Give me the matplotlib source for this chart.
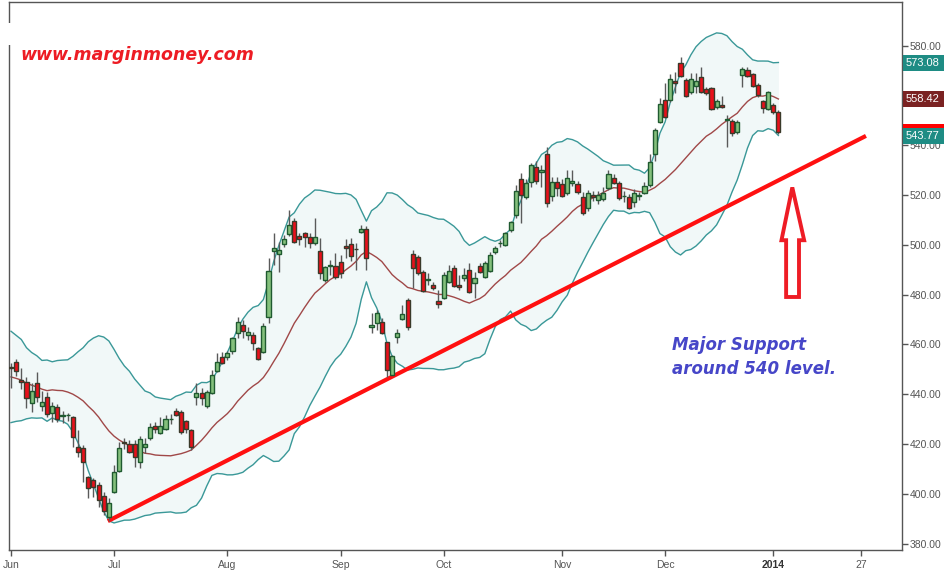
import numpy as np
import pandas as pd
import matplotlib
matplotlib.use("Agg")
import matplotlib.pyplot as plt
from matplotlib.patches import Rectangle, Polygon
import matplotlib.transforms as mtransforms

# ---------------- data ----------------
# closes of the 19 sessions before the first candle (May 2013), used only for the 20-day bands
prior_closes = [460.7, 458.7, 463.8, 456.8, 453.0, 454.7, 443.9, 428.9, 434.6, 433.3,
                442.9, 439.7, 441.4, 442.1, 445.2, 441.4, 445.0, 451.6, 449.7]

opens = [450.7, 452.8, 445.7, 445.0, 436.3, 444.3, 435.3, 439.0, 432.3, 435.0,
         431.4, 431.5, 431.0, 418.9, 418.2, 406.8, 405.5, 403.5, 399.1, 390.8,
         400.8, 409.2, 420.8, 419.8, 419.8, 412.9, 418.8, 422.5, 427.3, 424.5,
         426.1, 429.8, 433.2, 432.7, 429.2, 425.6, 438.7, 440.3, 435.2, 440.3,
         449.4, 454.8, 455.0, 457.4, 464.4, 467.8, 463.6, 463.7, 458.4, 456.8,
         470.8, 497.6, 496.1, 500.2, 504.2, 509.6, 503.4, 504.8, 503.2, 500.6,
         497.6, 485.7, 491.5, 491.6, 493.0, 499.5, 500.2, 498.4, 505.0, 506.2,
         466.8, 468.4, 469.1, 460.8, 447.6, 462.8, 470.3, 477.8, 496.3, 494.9,
         489.2, 485.9, 483.8, 477.4, 478.5, 485.1, 490.5, 483.7, 486.5, 489.8,
         484.5, 491.4, 486.9, 489.6, 497.2, 500.6, 499.9, 505.9, 511.9, 526.3,
         519.0, 525.1, 531.3, 529.1, 536.4, 519.6, 525.1, 524.3, 520.9, 524.7,
         524.4, 519.3, 514.6, 520.0, 518.0, 518.2, 522.7, 526.7, 524.9, 519.4,
         519.0, 517.3, 519.6, 520.9, 524.0, 536.3, 549.4, 558.1, 558.1, 565.6,
         573.1, 566.1, 561.2, 563.7, 567.2, 562.5, 563.0, 555.2, 556.1, 550.0,
         549.7, 545.4, 568.0, 570.2, 568.6, 564.1, 557.7, 554.4, 556.1, 553.2]

highs = [452.4, 454.0, 450.5, 447.0, 444.3, 448.8, 441.4, 441.0, 437.0, 436.0,
         433.2, 432.3, 431.3, 425.6, 419.6, 407.1, 406.5, 404.8, 400.8, 398.2,
         411.5, 420.9, 422.5, 421.6, 421.6, 423.2, 422.5, 428.5, 428.9, 430.9,
         431.6, 432.0, 434.3, 433.6, 429.6, 426.0, 444.3, 442.6, 441.6, 449.7,
         456.6, 457.0, 457.5, 463.0, 470.8, 469.8, 467.1, 465.1, 459.0, 468.4,
         494.5, 504.6, 501.2, 503.9, 513.9, 510.6, 504.8, 505.2, 504.5, 510.6,
         502.6, 491.6, 494.0, 496.5, 496.0, 502.2, 502.5, 500.7, 507.9, 507.5,
         472.4, 473.8, 470.5, 461.0, 455.8, 466.1, 475.8, 478.5, 497.9, 496.0,
         490.0, 488.5, 485.0, 481.8, 489.2, 491.8, 492.0, 487.8, 490.5, 492.5,
         489.2, 492.5, 493.5, 497.0, 499.5, 502.0, 505.0, 509.5, 524.0, 528.9,
         526.5, 532.9, 533.5, 532.0, 539.4, 527.0, 527.0, 526.5, 530.0, 530.0,
         525.5, 521.0, 522.0, 521.5, 521.5, 523.0, 530.0, 528.5, 525.5, 521.5,
         520.5, 522.5, 521.0, 525.0, 536.4, 546.8, 559.0, 564.8, 568.5, 569.5,
         575.5, 567.0, 568.8, 568.8, 571.5, 563.5, 563.5, 558.5, 559.7, 552.1,
         550.5, 550.0, 571.5, 571.5, 569.0, 565.0, 558.1, 561.6, 557.0, 554.1]

lows = [442.5, 447.3, 442.0, 434.5, 432.7, 436.7, 433.2, 430.9, 428.9, 428.9,
        428.5, 429.0, 418.9, 414.9, 404.8, 398.2, 398.6, 394.8, 391.4, 388.9,
        400.2, 408.8, 418.0, 416.2, 410.6, 410.2, 416.5, 421.6, 424.3, 424.0,
        425.6, 428.0, 431.3, 424.0, 424.5, 417.6, 435.6, 435.6, 434.3, 439.9,
        449.0, 452.1, 453.8, 456.2, 462.7, 462.4, 461.7, 457.7, 453.7, 456.4,
        468.4, 491.8, 489.2, 499.2, 503.5, 500.6, 499.8, 499.2, 498.5, 499.9,
        486.2, 485.0, 488.0, 486.4, 486.5, 494.6, 493.5, 489.8, 504.6, 489.8,
        464.7, 465.7, 464.0, 447.0, 447.5, 460.4, 469.8, 465.7, 482.5, 488.0,
        481.0, 483.8, 481.8, 474.5, 478.3, 484.5, 483.0, 481.8, 485.5, 480.5,
        478.5, 488.5, 486.5, 489.0, 496.3, 499.0, 499.5, 505.0, 510.6, 508.6,
        518.5, 523.3, 524.5, 523.3, 515.0, 517.5, 519.5, 519.0, 520.0, 523.5,
        520.5, 512.0, 513.5, 517.5, 516.5, 517.5, 522.0, 524.5, 518.0, 517.0,
        514.5, 515.0, 518.0, 520.3, 523.3, 533.7, 549.0, 550.8, 557.5, 561.0,
        567.5, 559.5, 560.5, 561.0, 560.8, 560.0, 554.0, 554.5, 554.8, 539.1,
        543.5, 544.5, 563.4, 567.5, 563.5, 559.5, 552.8, 554.0, 552.5, 544.5]

closes = [450.5, 449.2, 444.9, 438.3, 441.4, 438.7, 437.0, 431.9, 435.3, 430.0,
          431.6, 431.7, 422.7, 416.6, 412.9, 402.2, 402.5, 397.5, 393.2, 396.1,
          408.6, 418.2, 420.5, 416.9, 414.6, 421.8, 420.1, 426.9, 426.1, 427.1,
          429.9, 430.0, 431.6, 424.7, 425.9, 418.6, 440.3, 438.3, 440.7, 447.7,
          453.0, 452.4, 456.4, 462.4, 469.1, 465.3, 464.8, 460.6, 454.1, 467.3,
          489.4, 498.6, 497.9, 502.2, 507.9, 500.9, 502.2, 503.0, 500.8, 503.0,
          488.5, 490.9, 491.7, 486.9, 488.5, 498.6, 495.5, 498.2, 506.2, 494.6,
          467.8, 472.5, 464.7, 449.7, 455.3, 464.4, 472.0, 467.1, 490.5, 488.8,
          481.4, 486.1, 482.5, 476.3, 487.8, 489.4, 483.4, 482.9, 487.8, 480.9,
          486.5, 489.2, 492.5, 495.7, 498.6, 500.8, 504.6, 509.2, 521.6, 520.0,
          524.9, 532.0, 525.7, 530.0, 516.6, 525.1, 522.7, 519.7, 526.7, 525.7,
          521.0, 512.6, 520.6, 519.0, 520.0, 520.6, 528.3, 524.9, 518.6, 519.7,
          514.9, 520.9, 519.8, 523.7, 533.3, 546.1, 556.5, 551.2, 566.4, 565.1,
          567.9, 559.8, 566.4, 565.6, 561.4, 560.8, 554.4, 557.7, 555.2, 550.5,
          544.7, 549.2, 570.4, 567.9, 563.9, 560.1, 554.8, 561.2, 553.4, 545.1]

tick_pos = [0, 20, 42, 64, 84, 107, 127, 148, 165]
tick_labels = ["Jun", "Jul", "Aug", "Sep", "Oct", "Nov", "Dec", "2014", "27"]
y_ticks = [380, 400, 420, 440, 460, 480, 500, 520, 540, 560, 580]

band_labels = [573.08, 558.42, 543.77]   # upper, middle, lower band values shown on the axis
trend_x = [18.8, 166.0]
trend_y = [389.0, 543.7]

# ---------------- derived ----------------
n = len(closes)
x = np.arange(n)
o = np.array(opens); h = np.array(highs); l = np.array(lows); c = np.array(closes)
allc = pd.Series(prior_closes + closes)
mid = allc.rolling(20).mean().to_numpy()[len(prior_closes):]
sd = allc.rolling(20).std(ddof=0).to_numpy()[len(prior_closes):]
upper = mid + 2 * sd
lower = mid - 2 * sd

# ---------------- figure ----------------
fig = plt.figure(figsize=(9.44, 5.75), dpi=100)
ax = fig.add_axes([8.5 / 944, 25 / 575, (902 - 8.5) / 944, (550 - 2) / 575])
ax.set_xlim(-0.49, 173.0)
ax.set_ylim(377.39, 597.47)

ax.fill_between(x, lower, upper, color="#f1f8f8", zorder=1, linewidth=0)
ax.plot(x, upper, color="#3a9898", lw=1, zorder=2)
ax.plot(x, lower, color="#3a9898", lw=1, zorder=2)
ax.plot(x, mid, color="#a04848", lw=1, zorder=2)

ax.plot(trend_x, trend_y, color="#ff1010", lw=3, zorder=3, solid_capstyle="butt")

up = c >= o
ax.vlines(x, l, h, color="#5a5a5a", lw=1, zorder=4)
body_bottom = np.minimum(o, c)
body_h = np.maximum(np.abs(c - o), 0.25)
ax.bar(x[up], body_h[up], bottom=body_bottom[up], width=0.8,
       color="#84c07c", edgecolor="#1f5a30", linewidth=1, zorder=5)
ax.bar(x[~up], body_h[~up], bottom=body_bottom[~up], width=0.8,
       color="#e8101a", edgecolor="#3a3a2a", linewidth=1, zorder=5)

# arrow outline
arrow = Polygon([(151.7, 523.0), (154.0, 501.8), (153.0, 501.8), (153.0, 479.0),
                 (150.5, 479.0), (150.5, 501.8), (149.6, 501.8)],
                closed=True, facecolor="white", edgecolor="#ee1c25", lw=2.8, zorder=6)
ax.add_patch(arrow)

ax.text(128.3, 457.7, "Major Support", color="#4646c8", fontsize=12,
        family="DejaVu Sans", weight="bold", style="italic", va="baseline", zorder=7)
ax.text(128.3, 448.1, "around 540 level.", color="#4646c8", fontsize=12,
        family="DejaVu Sans", weight="bold", style="italic", va="baseline", zorder=7)

fig.text(20 / 944, (575 - 60) / 575, "www.marginmoney.com", color="#ed1c24", fontsize=12.5,
         family="DejaVu Sans", weight="bold", style="italic", va="baseline")

# axes styling
for s in ax.spines.values():
    s.set_color("#555555")
    s.set_linewidth(1)
ax.yaxis.tick_right()
ax.set_yticks(y_ticks)
ax.set_yticklabels([f"{v:.2f}" for v in y_ticks])
ax.set_xticks(tick_pos)
ax.set_xticklabels(tick_labels)
ax.tick_params(axis="both", colors="#555555", labelcolor="#555555", length=4, width=1,
               labelsize=7.5, direction="out")
ax.tick_params(axis="y", pad=1.5)
for lab in ax.get_xticklabels() + ax.get_yticklabels():
    lab.set_family(["Liberation Sans", "DejaVu Sans"])
ax.get_xticklabels()[7].set_weight("bold")
ax.get_xticklabels()[7].set_color("#333333")

# price labels on the right
blend = mtransforms.blended_transform_factory(ax.transAxes, ax.transData)
box_h = 6.4
for val, col in [(c[-1], "#ff0000"), (band_labels[0], "#1e8c84"),
                 (band_labels[1], "#7a2222"), (band_labels[2], "#1e8c84")]:
    ax.add_patch(Rectangle((1.0015, val - box_h / 2), 0.08, box_h, transform=blend,
                           facecolor=col, edgecolor="none", clip_on=False, zorder=10))
    if col != "#ff0000":
        ax.text(1.0045, val, f"{val:.2f}", transform=blend, color="white", fontsize=8,
                family=["Liberation Sans", "DejaVu Sans"], va="center", ha="left",
                clip_on=False, zorder=11)

# small gap in the left frame line
fig.patches.append(Rectangle((5 / 944, (575 - 45) / 575), 7 / 944, 22 / 575,
                             transform=fig.transFigure, facecolor="white", edgecolor="none",
                             zorder=20))

fig.savefig("out.png", dpi=100)
